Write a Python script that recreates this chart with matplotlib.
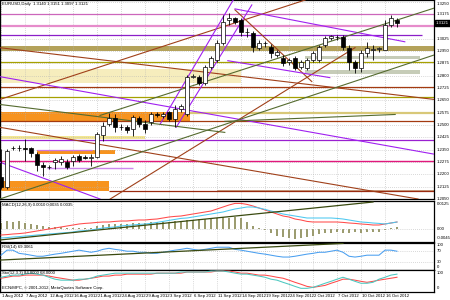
import numpy as np
import matplotlib
matplotlib.use("Agg")
import matplotlib.pyplot as plt

# ---- EURUSD daily bars (1 Aug 2012 .. 18 Oct 2012) ----
opens = [1.2183, 1.2123, 1.2359, 1.2362, 1.2359, 1.2359, 1.2322, 1.2256, 1.2244, 1.2274,
         1.2274, 1.2274, 1.2280, 1.2310, 1.2304, 1.2301, 1.2304, 1.2437, 1.2504, 1.2540,
         1.2486, 1.2486, 1.2474, 1.2540, 1.2504, 1.2516, 1.2564, 1.2552, 1.2576, 1.2534,
         1.2595, 1.2564, 1.2794, 1.2794, 1.2758, 1.2855, 1.2897, 1.3000, 1.3139, 1.3151,
         1.3139, 1.3066, 1.3060, 1.2970, 1.3000, 1.2976, 1.2927, 1.2909, 1.2885, 1.2909,
         1.2855, 1.2849, 1.2897, 1.2897, 1.2988, 1.3030, 1.3036, 1.3036, 1.2970, 1.2885,
         1.2849, 1.2939, 1.2958, 1.2964, 1.2958, 1.3109, 1.3139]
highs = [1.2353, 1.2353, 1.2371, 1.2377, 1.2413, 1.2365, 1.2334, 1.2274, 1.2256, 1.2298,
         1.2310, 1.2292, 1.2316, 1.2322, 1.2316, 1.2322, 1.2455, 1.2516, 1.2570, 1.2564,
         1.2504, 1.2498, 1.2558, 1.2552, 1.2528, 1.2576, 1.2576, 1.2576, 1.2588, 1.2619,
         1.2625, 1.2806, 1.2812, 1.2806, 1.2867, 1.2921, 1.3018, 1.3169, 1.3181, 1.3157,
         1.3151, 1.3091, 1.3072, 1.3018, 1.3012, 1.2994, 1.2958, 1.2927, 1.2909, 1.2921,
         1.2897, 1.2909, 1.2951, 1.2988, 1.3042, 1.3048, 1.3048, 1.3048, 1.2988, 1.2897,
         1.2958, 1.3006, 1.2988, 1.2976, 1.3139, 1.3169, 1.3151]
lows = [1.2111, 1.2111, 1.2347, 1.2340, 1.2280, 1.2304, 1.2219, 1.2189, 1.2232, 1.2232,
        1.2256, 1.2232, 1.2250, 1.2274, 1.2292, 1.2250, 1.2298, 1.2401, 1.2492, 1.2455,
        1.2468, 1.2449, 1.2431, 1.2486, 1.2449, 1.2498, 1.2546, 1.2540, 1.2522, 1.2486,
        1.2582, 1.2552, 1.2788, 1.2746, 1.2746, 1.2843, 1.2885, 1.2988, 1.3109, 1.3115,
        1.3042, 1.3036, 1.2945, 1.2958, 1.2976, 1.2909, 1.2915, 1.2861, 1.2867, 1.2837,
        1.2843, 1.2837, 1.2885, 1.2885, 1.2976, 1.3018, 1.3018, 1.2958, 1.2837, 1.2818,
        1.2824, 1.2915, 1.2897, 1.2945, 1.2958, 1.3097, 1.3097]
closes = [1.2123, 1.2340, 1.2362, 1.2359, 1.2356, 1.2328, 1.2256, 1.2244, 1.2247, 1.2286,
          1.2292, 1.2244, 1.2304, 1.2286, 1.2301, 1.2304, 1.2443, 1.2492, 1.2540, 1.2486,
          1.2489, 1.2468, 1.2546, 1.2504, 1.2474, 1.2564, 1.2561, 1.2564, 1.2534, 1.2595,
          1.2613, 1.2794, 1.2800, 1.2758, 1.2855, 1.2909, 1.3000, 1.3127, 1.3151, 1.3127,
          1.3066, 1.3063, 1.2976, 1.3000, 1.2997, 1.2939, 1.2945, 1.2879, 1.2897, 1.2849,
          1.2885, 1.2897, 1.2939, 1.2976, 1.3030, 1.3042, 1.3036, 1.2976, 1.2885, 1.2849,
          1.2939, 1.2970, 1.2964, 1.2967, 1.3109, 1.3151, 1.3121]

date_labels = ["1 Aug 2012", "7 Aug 2012", "12 Aug 2012", "16 Aug 2012", "21 Aug 2012",
               "24 Aug 2012", "29 Aug 2012", "3 Sep 2012", "6 Sep 2012", "11 Sep 2012",
               "14 Sep 2012", "19 Sep 2012", "24 Sep 2012", "2 Oct 2012", "7 Oct 2012",
               "10 Oct 2012", "16 Oct 2012"]
price_ticks = [1.3250, 1.3175, 1.3025, 1.2950, 1.2875, 1.2800, 1.2725, 1.2650, 1.2575,
               1.2500, 1.2425, 1.2350, 1.2275, 1.2200, 1.2125, 1.2050]
last_price = 1.3121

# ---- MACD(12,26,9) ----
macd_hist = [0.0030, 0.0040, 0.0035, 0.0040, 0.0030, 0.0025, 0.0020, 0.0015, 0.0010, 0.0010,
             0.0010, 0.0005, 0.0005, 0.0005, 0.0005, 0.0005, 0.0015, 0.0020, 0.0025, 0.0025,
             0.0025, 0.0025, 0.0030, 0.0030, 0.0030, 0.0035, 0.0035, 0.0035, 0.0035, 0.0040,
             0.0040, 0.0045, 0.0045, 0.0050, 0.0050, 0.0055, 0.0055, 0.0060, 0.0055, 0.0060,
             0.0055, 0.0035, 0.0015, 0.0005, -0.0005, -0.0020, -0.0035, -0.0040, -0.0045, -0.0050,
             -0.0045, -0.0040, -0.0035, -0.0025, -0.0020, -0.0020, -0.0015, -0.0020, -0.0020, -0.0015,
             -0.0020, -0.0015, -0.0015, -0.0015, -0.0005, 0.0005, 0.0010]
macd_red = [-0.0030, -0.0028, -0.0025, -0.0023, -0.0020, -0.0015, -0.0010, -0.0005, 0.0000, 0.0005,
            0.0010, 0.0015, 0.0020, 0.0025, 0.0028, 0.0030, 0.0033, 0.0035, 0.0035, 0.0038,
            0.0040, 0.0040, 0.0043, 0.0045, 0.0045, 0.0048, 0.0050, 0.0055, 0.0060, 0.0063,
            0.0065, 0.0070, 0.0075, 0.0080, 0.0085, 0.0090, 0.0100, 0.0110, 0.0120, 0.0128,
            0.0128, 0.0123, 0.0115, 0.0105, 0.0095, 0.0085, 0.0075, 0.0065, 0.0060, 0.0050,
            0.0045, 0.0038, 0.0035, 0.0035, 0.0035, 0.0035, 0.0035, 0.0033, 0.0030, 0.0028,
            0.0025, 0.0023, 0.0020, 0.0020, 0.0025, 0.0030, 0.0035]
macd_cyan = [-0.0045, -0.0043, -0.0040, -0.0038, -0.0035, -0.0033, -0.0030, -0.0028, -0.0025, -0.0023,
             -0.0020, -0.0018, -0.0015, -0.0010, -0.0008, -0.0005, 0.0000, 0.0005, 0.0008, 0.0010,
             0.0015, 0.0018, 0.0020, 0.0023, 0.0025, 0.0028, 0.0033, 0.0038, 0.0043, 0.0048,
             0.0053, 0.0055, 0.0060, 0.0065, 0.0070, 0.0075, 0.0080, 0.0085, 0.0093, 0.0100,
             0.0105, 0.0110, 0.0110, 0.0105, 0.0098, 0.0090, 0.0083, 0.0075, 0.0070, 0.0065,
             0.0060, 0.0055, 0.0055, 0.0055, 0.0055, 0.0055, 0.0053, 0.0050, 0.0045, 0.0040,
             0.0035, 0.0033, 0.0030, 0.0028, 0.0025, 0.0030, 0.0035]

# ---- RSI(14) ----
rsi = [54, 73, 73, 61, 58, 54, 50, 50, 54, 58, 61, 65, 69, 73, 69, 65, 69, 76, 80, 76,
       73, 69, 69, 65, 65, 61, 61, 65, 69, 73, 76, 80, 76, 73, 76, 80, 84, 84, 84, 76,
       73, 69, 65, 61, 58, 54, 50, 47, 47, 50, 54, 58, 61, 65, 65, 69, 73, 65, 50, 47,
       50, 54, 54, 54, 73, 73, 69]

# ---- Stochastic ----
stoch_main = [68, 74, 79, 79, 84, 89, 84, 79, 68, 58, 53, 53, 53, 58, 58, 63, 74, 79, 84, 89,
              89, 89, 89, 89, 89, 89, 89, 89, 89, 89, 95, 95, 95, 95, 95, 100, 100, 100, 95, 89,
              84, 84, 79, 74, 68, 58, 53, 42, 32, 21, 11, 11, 16, 26, 37, 47, 58, 68, 58, 47,
              37, 37, 42, 58, 68, 79, 84]
stoch_signal = [63, 68, 74, 74, 79, 79, 79, 79, 74, 68, 63, 58, 53, 53, 58, 63, 68, 74, 74, 79,
                79, 84, 84, 84, 84, 84, 89, 89, 89, 89, 89, 95, 95, 95, 95, 95, 100, 100, 100, 95,
                89, 89, 84, 79, 79, 74, 68, 63, 53, 42, 32, 21, 16, 21, 26, 37, 47, 58, 58, 53,
                47, 42, 47, 53, 58, 63, 68]

# ---- chart objects drawn on the price window ----
full = (-0.2, 72.3)
hlines = [  # price, bar0, bar1, colour, width
    (1.3175, *full, "#cc66bb", 0.9),
    (1.3103, *full, "#e68ccb", 1.6),
    (1.3048, -0.2, 70.2, "#8b1fc8", 0.9),
    (1.2885, *full, "#a6a000", 0.9),
    (1.2728, *full, "#a33a10", 0.9),
    (1.2673, *full, "#a6a000", 0.9),
    (1.2570, 31.5, 72.3, "#d8c878", 1.6),
    (1.2522, *full, "#a33a10", 0.9),
    (1.2407, *full, "#9a20d0", 0.9),
    (1.2347, 6.0, 15.2, "#cc77dd", 0.9),
    (1.2280, *full, "#e0187c", 1.0),
    (1.2238, 7.7, 22.0, "#cc88ee", 1.0),
    (1.2098, 18.0, 72.3, "#9a2a10", 0.9),
]
bands = [  # low, high, bar0, bar1, colour
    (1.2951, 1.2982, *full, "#b4a25a"),
    (1.2903, 1.2921, 50.7, 69.8, "#c6ccb8"),
    (1.2812, 1.2837, 50.7, 69.8, "#c6ccb8"),
    (1.2758, 1.2843, -0.2, 40.0, "#f6edbd"),
    (1.2522, 1.2576, -0.2, 31.5, "#f7931e"),
    (1.2413, 1.2431, -0.2, 24.0, "#f2e692"),
    (1.2322, 1.2347, 6.0, 19.0, "#f7931e"),
    (1.2098, 1.2159, -0.2, 18.0, "#f7931e"),
    (1.2092, 1.2107, 36.0, 72.3, "#c9a385"),
]
trendlines = [  # bar0, price0, bar1, price1, colour
    (-0.2, 1.2655, 50.7, 1.3260, "#a0401a"),
    (-0.2, 1.2970, 72.3, 1.2655, "#a0401a"),
    (-0.2, 1.2486, 69.5, 1.2050, "#a0401a"),
    (18.2, 1.2050, 59.0, 1.2970, "#a0401a"),
    (39.0, 1.3200, 51.8, 1.2764, "#a0401a"),
    (26.5, 1.2504, 38.7, 1.3260, "#a020f0"),
    (29.2, 1.2486, 41.8, 1.3230, "#a020f0"),
    (39.0, 1.3206, 67.3, 1.3006, "#a020f0"),
    (37.8, 1.2891, 54.8, 1.2788, "#a020f0"),
    (-0.2, 1.2794, 72.3, 1.2322, "#a020f0"),
    (-0.2, 1.2274, 16.5, 1.2050, "#a020f0"),
    (16.5, 1.2558, 72.3, 1.3212, "#556b2f"),
    (-0.2, 1.2050, 72.3, 1.2927, "#556b2f"),
    (-0.2, 1.2625, 37.3, 1.2455, "#556b2f"),
    (37.3, 1.2522, 65.7, 1.2564, "#556b2f"),
]
macd_trend = (-0.2, -0.0055, 62.0, 0.0135)
rsi_trend = (-0.2, 35.5, 57.0, 98.4)

plt.rcParams["font.family"] = ["Liberation Sans", "DejaVu Sans"]
FS = 3.1
W, H = 450, 300
XLIM = (-1 / 6, 433 / 6)


def panel(top, bottom):
    return fig.add_axes([0, 1 - bottom / H, 434 / W, (bottom - top) / H])


def style(ax):
    ax.set_xlim(*XLIM)
    ax.set_xticks(range(0, 67, 4))
    ax.set_xticklabels([])
    ax.set_yticklabels([])
    ax.tick_params(length=0)
    ax.grid(True, axis="x", color="#b4b4b4", lw=0.5, ls=(0, (1, 2)))
    for s in ax.spines.values():
        s.set_color("black")
        s.set_linewidth(0.9)


def right_label(ax, v, s, va="center"):
    ax.text(1.006, v, s, transform=ax.get_yaxis_transform(), fontsize=FS,
            va=va, ha="left", clip_on=False)


fig = plt.figure(figsize=(4.5, 3), dpi=100)
fig.patch.set_facecolor("white")

# ---------------- main price panel ----------------
ax = panel(0, 199)
style(ax)
ax.set_ylim(1.2056, 1.3260)
ax.set_yticks(price_ticks)
ax.grid(True, axis="y", color="#b4b4b4", lw=0.5, ls=(0, (1, 2)))

for lo, hi, b0, b1, col in bands:
    ax.fill_between([b0, b1], lo, hi, color=col, lw=0, zorder=1)
for p, b0, b1, col, lw in hlines:
    ax.hlines(p, b0, b1, color=col, lw=lw, zorder=2)
for b0, p0, b1, p1, col in trendlines:
    ax.plot([b0, b1], [p0, p1], color=col, lw=0.8, zorder=3)

x = np.arange(len(opens))
o, h, l, c = (np.array(v) for v in (opens, highs, lows, closes))
ax.vlines(x, l, h, color="black", lw=0.6, zorder=4)
body_lo = np.minimum(o, c)
body_h = np.maximum(np.abs(c - o), 0.00004)
ax.bar(x, body_h, bottom=body_lo, width=0.62,
       color=np.where(c >= o, "white", "black"), edgecolor="black", lw=0.5, zorder=5)

ax.text(0.004, 0.99, "EURUSD,Daily  1.3140 1.3151 1.3097 1.3121", transform=ax.transAxes,
        fontsize=FS, va="top", ha="left", zorder=10)
for p in price_ticks:
    right_label(ax, p, f"{p:.4f}", va="top" if p == price_ticks[0] else "center")
ax.text(1.004, last_price, f"{last_price:.4f}", transform=ax.get_yaxis_transform(),
        fontsize=FS, va="center", ha="left", color="white", clip_on=False,
        bbox=dict(boxstyle="square,pad=0.2", fc="black", ec="black"))

# ---------------- MACD ----------------
am = panel(201, 242)
style(am)
am.set_ylim(-0.0065, 0.014)
am.bar(x, macd_hist, width=0.35, color="#9c9c70", zorder=2)
am.plot(x, macd_red, color="#ff4a4a", lw=0.75, zorder=3)
am.plot(x, macd_cyan, color="#4cc8f0", lw=0.75, zorder=3)
am.plot([macd_trend[0], macd_trend[2]], [macd_trend[1], macd_trend[3]], color="#3a4a10",
        lw=0.9, zorder=3)
am.axhline(0, color="#b4b4b4", lw=0.5, ls=(0, (1, 2)))
am.text(0.004, 0.95, "MACD(12,26,9) 0.0010 0.0035 0.0035", transform=am.transAxes,
        fontsize=FS, va="top", ha="left")
right_label(am, 0.0125, "0.0125")
right_label(am, 0.0, "0.00")
right_label(am, -0.0045, "-0.0045")

# ---------------- RSI ----------------
ar = panel(243, 269.5)
style(ar)
ar.set_ylim(0, 100)
for lv in (70, 30):
    ar.axhline(lv, color="#b4b4b4", lw=0.5, ls=(0, (1, 2)))
ar.plot(x, rsi, color="#4a9ff0", lw=0.75, zorder=3)
ar.plot([rsi_trend[0], rsi_trend[2]], [rsi_trend[1], rsi_trend[3]], color="#3a4a10",
        lw=0.9, zorder=3)
ar.text(0.004, 0.93, "RSI(14) 69.3061", transform=ar.transAxes, fontsize=FS, va="top", ha="left")
right_label(ar, 100, "100", va="top")
right_label(ar, 70, "70")
right_label(ar, 30, "30")
right_label(ar, 0, "0", va="bottom")

# ---------------- Stochastic ----------------
ast = panel(270, 291.5)
style(ast)
ast.set_ylim(-5.3, 105.3)
ast.plot(x, stoch_signal, color="#ff4a4a", lw=0.75, zorder=3)
ast.plot(x, stoch_main, color="#4cc8c0", lw=0.75, zorder=3)
ast.text(0.004, 0.95, "Sto(12,3,3) 84.0000 68.0000", transform=ast.transAxes, fontsize=FS,
         va="top", ha="left")
ast.text(0.004, 0.06, "ECN/MPC, \u00a9 2001-2012, MetaQuotes Software Corp.", transform=ast.transAxes,
         fontsize=FS, va="bottom", ha="left")
right_label(ast, 100, "100", va="top")
right_label(ast, 0, "0", va="bottom")

for t, s in zip(range(0, 67, 4), date_labels):
    ast.text(t + 0.1, -0.1, s, transform=ast.get_xaxis_transform(), fontsize=FS,
             va="top", ha="left", clip_on=False)

fig.savefig("out.png", dpi=100)
